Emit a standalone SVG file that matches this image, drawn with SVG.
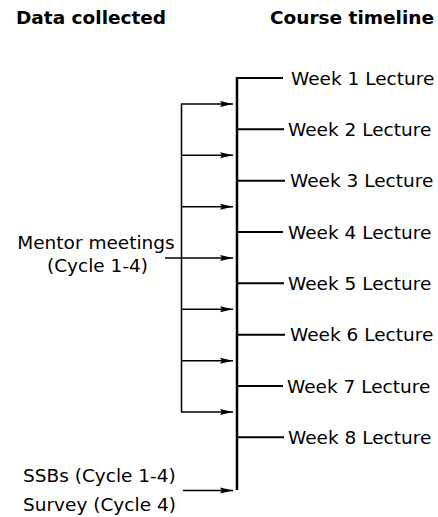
<svg xmlns="http://www.w3.org/2000/svg" width="438" height="517" viewBox="0 0 438 517">
<style>
text{font-family:"DejaVu Sans",sans-serif;font-size:18.5px;fill:#000}
.title{font-weight:bold}
.axis{stroke:#000;stroke-width:2.5;fill:none}
.tick{stroke:#000;stroke-width:2;fill:none}
.ln{stroke:#000;stroke-width:1.5;fill:none}
.arr{stroke:#000;stroke-width:1.5;fill:none;marker-end:url(#ah)}
</style>
<defs>
<marker id="ah" markerWidth="13" markerHeight="7" refX="13" refY="3.5" orient="auto" markerUnits="userSpaceOnUse">
<path d="M0,0.5 L13,3.5 L0,6.5 L2,3.5 Z" fill="#000"/>
</marker>
</defs>
<g id="titles">
<text class="title" x="16" y="24">Data collected</text>
<text class="title" x="270" y="24">Course timeline</text>
</g>
<g id="connectors">
<path class="axis" d="M237,77 V490"/>
<path class="tick" d="M236,78 H283"/>
<path class="tick" d="M236,129.3 H284"/>
<path class="tick" d="M236,180.7 H285"/>
<path class="tick" d="M236,232 H283"/>
<path class="tick" d="M236,283.3 H284"/>
<path class="tick" d="M236,334.7 H285"/>
<path class="tick" d="M236,386 H283"/>
<path class="tick" d="M236,437.3 H284"/>
<path class="ln" d="M181.5,104 V412"/>
<path class="arr" d="M181,104 H233"/>
<path class="arr" d="M181,155.3 H233"/>
<path class="arr" d="M181,206.7 H233"/>
<path class="arr" d="M165,258 H233"/>
<path class="arr" d="M181,309.3 H233"/>
<path class="arr" d="M181,360.7 H233"/>
<path class="arr" d="M181,412 H233"/>
<path class="arr" d="M183,490.5 H233"/>
</g>
<g id="weeks">
<text x="291" y="84.5">Week 1 Lecture</text>
<text x="288" y="135.8">Week 2 Lecture</text>
<text x="290" y="187.2">Week 3 Lecture</text>
<text x="288" y="238.5">Week 4 Lecture</text>
<text x="288" y="289.8">Week 5 Lecture</text>
<text x="290" y="341.2">Week 6 Lecture</text>
<text x="287" y="392.5">Week 7 Lecture</text>
<text x="288" y="443.8">Week 8 Lecture</text>
</g>
<g id="mentor">
<text x="96" y="249" text-anchor="middle">Mentor meetings</text>
<text x="97.5" y="272" text-anchor="middle">(Cycle 1-4)</text>
</g>
<g id="ssbs">
<text x="23" y="482">SSBs (Cycle 1-4)</text>
</g>
<g id="survey">
<text x="23" y="511">Survey (Cycle 4)</text>
</g>
</svg>
